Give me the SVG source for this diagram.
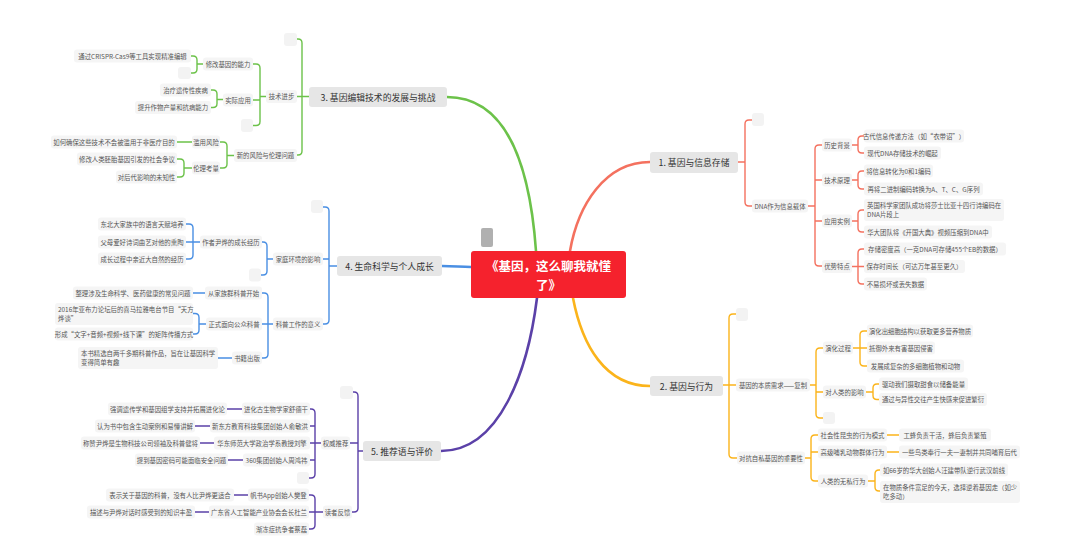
<svg xmlns="http://www.w3.org/2000/svg" width="1080" height="543" viewBox="0 0 1080 543">
<style>
.c{fill:none;stroke-width:1.4;stroke-linecap:round;stroke-linejoin:round}
.mc{fill:none;stroke-width:2.6;stroke-linecap:round}
.g{stroke:#6cc24a}.b{stroke:#4a8fe3}.p{stroke:#5b41a8}.r{stroke:#f4715f}.y{stroke:#fbb41b}
.n rect{fill:#f5f5f5}
text{font-family:"Noto Sans CJK SC","Noto Sans",sans-serif}
.n text{font-size:6.4px;fill:#555;text-anchor:middle;dominant-baseline:central}
.n text.l{text-anchor:start}
.m rect{fill:#e6e6e6}
.m text{font-size:8.8px;fill:#333;text-anchor:middle;dominant-baseline:central}
.e rect{fill:#f3f3f3}
</style>
<rect width="1080" height="543" fill="#ffffff"/>
<g id="connectors">
<!-- main branches -->
<path class="mc g" d="M447 97 C495 97 528 140 536 251"/>
<path class="mc b" d="M442 266 C455 266 460 267 471 267"/>
<path class="mc p" d="M441 451 C500 451 528 370 537 298"/>
<path class="mc r" d="M650 162 C605 162 578 205 570 251"/>
<path class="mc y" d="M650 386 C605 386 582 345 573 298"/>
<!-- branch 3 -->
<path class="c g" d="M297 39 H298 Q302 39 302 43 V151 Q302 155 298 155 H297 M302 96.5 H297 M309 96.5 H302"/>
<path class="c g" d="M253 64 H256 Q260 64 260 68 V121.5 Q260 125.5 256 125.5 H253 M260 100 H253 M266 96.5 H260"/>
<path class="c g" d="M191 56 H193 Q197 56 197 60 V69 Q197 73 193 73 H191 M203 64 H197"/>
<path class="c g" d="M211 90 H213 Q217 90 217 94 V103.5 Q217 107.5 213 107.5 H211 M223 99.5 H217"/>
<path class="c g" d="M220 142 H223 Q227 142 227 146 V164 Q227 168 223 168 H220 M234 155.5 H227"/>
<path class="c g" d="M192 142 H177"/>
<path class="c g" d="M177 159 H180 Q184 159 184 163 V173 Q184 177 180 177 H177 M192 168 H184"/>
<!-- branch 4 -->
<path class="c b" d="M323 207 H325 Q329 207 329 211 V320 Q329 324 325 324 H323 M329 259 H323 M337 266 H329"/>
<path class="c b" d="M262 242 H263 Q267 242 267 246 V271 Q267 275 263 275 H261 M273 259 H267"/>
<path class="c b" d="M186 224 H189 Q193 224 193 228 V255 Q193 259 189 259 H186 M193 242 H186 M200 242 H193"/>
<path class="c b" d="M262 293 H264 Q268 293 268 297 V354 Q268 358 264 358 H262 M268 324 H262 M273 324 H268"/>
<path class="c b" d="M205 293 H193"/>
<path class="c b" d="M193 313.5 H195 Q199 313.5 199 317.5 V330 Q199 334 195 334 H193 M206 324 H199"/>
<path class="c b" d="M232 358 H218"/>
<!-- branch 5 -->
<path class="c p" d="M353 392 H354 Q358 392 358 396 V508 Q358 512 354 512 H352 M358 443 H350 M363 451 H358"/>
<path class="c p" d="M310 409 H311 Q315 409 315 413 V474 Q315 478 311 478 H309 M315 426 H310 M321 443 H310 M315 460 H310"/>
<path class="c p" d="M242 409 H227 M210 426 H195 M214 443 H200 M243 460 H228"/>
<path class="c p" d="M309 495 H311 Q315 495 315 499 V525 Q315 529 311 529 H309 M323 512 H309"/>
<path class="c p" d="M248 495 H234 M209 512 H195"/>
<!-- branch 1 -->
<path class="c r" d="M752 120 H749 Q745 120 745 124 V202 Q745 206 749 206 H752 M738 162 H745"/>
<path class="c r" d="M822 145 H819 Q815 145 815 149 V262 Q815 266 819 266 H822 M815 180 H822 M815 221 H822 M808 206 H815"/>
<path class="c r" d="M864 136 H862 Q858 136 858 140 V149 Q858 153 862 153 H864 M852 145 H858"/>
<path class="c r" d="M864 171 H862 Q858 171 858 175 V185 Q858 189 862 189 H864 M852 180 H858"/>
<path class="c r" d="M864 210 H862 Q858 210 858 214 V228 Q858 232 862 232 H864 M852 221 H858"/>
<path class="c r" d="M864 249 H862 Q858 249 858 253 V280 Q858 284 862 284 H864 M852 266.5 H864"/>
<!-- branch 2 -->
<path class="c y" d="M736 314 H733 Q729 314 729 318 V454 Q729 458 733 458 H737 M723 385 H736"/>
<path class="c y" d="M823 348 H820 Q816 348 816 352 V414 Q816 418 820 418 H823 M816 392 H823 M810 385 H816"/>
<path class="c y" d="M867 331 H864 Q860 331 860 335 V362 Q860 366 864 366 H867 M853 348 H867"/>
<path class="c y" d="M879 384 H877 Q873 384 873 388 V395.5 Q873 399.5 877 399.5 H879 M866 392 H873"/>
<path class="c y" d="M818 435 H815 Q811 435 811 439 V477 Q811 481 815 481 H818 M811 452 H818 M805 458 H811"/>
<path class="c y" d="M887 435 H899 M887 452 H899"/>
<path class="c y" d="M880 470 H879 Q875 470 875 474 V487 Q875 491 879 491 H880 M868 481 H875"/>
</g>

<!-- center -->
<g id="center">
<rect x="481" y="228" width="12" height="19" rx="2" fill="#b0b0b0"/>
<rect x="471" y="251" width="155" height="47" rx="3" fill="#f5222d"/>
<text x="548.5" y="265.5" font-size="12.5" font-weight="bold" fill="#ffffff" text-anchor="middle" dominant-baseline="central">《基因，这么聊我就懂</text>
<text x="548.5" y="284" font-size="12.5" font-weight="bold" fill="#ffffff" text-anchor="middle" dominant-baseline="central">了》</text>
</g>

<!-- branch 3 nodes -->
<g id="b3" class="m"><rect x="309" y="87" width="138" height="20" rx="3"/><text x="378" y="97">3. 基因编辑技术的发展与挑战</text></g>
<g id="b3-e1" class="n e"><rect x="284" y="33" width="13" height="13" rx="3"/></g>
<g id="b3-1" class="n"><rect x="266" y="90" width="31" height="13" rx="3"/><text x="281.5" y="96.5">技术进步</text></g>
<g id="b3-2" class="n"><rect x="234" y="149" width="63" height="13" rx="3"/><text x="265.5" y="155.5">新的风险与伦理问题</text></g>
<g id="b3-1-1" class="n"><rect x="203" y="57.5" width="50" height="13" rx="3"/><text x="228" y="64">修改基因的能力</text></g>
<g id="b3-1-2" class="n"><rect x="223" y="93.5" width="30" height="13" rx="3"/><text x="238" y="100">实际应用</text></g>
<g id="b3-1-e" class="n e"><rect x="241" y="119" width="12" height="13" rx="3"/></g>
<g id="b3-1-1-1" class="n"><rect x="74" y="49.5" width="117" height="13" rx="3"/><text x="132.5" y="56">通过CRISPR-Cas9等工具实现精准编辑</text></g>
<g id="b3-1-1-e" class="n e"><rect x="178" y="67" width="13" height="12" rx="3"/></g>
<g id="b3-1-2-1" class="n"><rect x="160" y="83.5" width="51" height="13" rx="3"/><text x="185.5" y="90">治疗遗传性疾病</text></g>
<g id="b3-1-2-2" class="n"><rect x="135" y="101" width="76" height="13" rx="3"/><text x="173" y="107.5">提升作物产量和抗病能力</text></g>
<g id="b3-2-1" class="n"><rect x="192" y="135.5" width="28" height="13" rx="3"/><text x="206" y="142">滥用风险</text></g>
<g id="b3-2-2" class="n"><rect x="192" y="161.5" width="28" height="13" rx="3"/><text x="206" y="168">伦理考量</text></g>
<g id="b3-2-1-1" class="n"><rect x="51" y="135.5" width="126" height="13" rx="3"/><text x="114" y="142">如何确保这些技术不会被滥用于非医疗目的</text></g>
<g id="b3-2-2-1" class="n"><rect x="77" y="152.5" width="100" height="13" rx="3"/><text x="127" y="159">修改人类胚胎基因引发的社会争议</text></g>
<g id="b3-2-2-2" class="n"><rect x="116" y="170.5" width="61" height="13" rx="3"/><text x="146.5" y="177">对后代影响的未知性</text></g>

<!-- branch 4 nodes -->
<g id="b4" class="m"><rect x="337" y="256" width="105" height="20" rx="3"/><text x="389.5" y="266">4. 生命科学与个人成长</text></g>
<g id="b4-e1" class="n e"><rect x="311" y="200" width="12" height="13" rx="3"/></g>
<g id="b4-1" class="n"><rect x="273" y="252.5" width="50" height="13" rx="3"/><text x="298" y="259">家庭环境的影响</text></g>
<g id="b4-2" class="n"><rect x="273" y="317.5" width="50" height="13" rx="3"/><text x="298" y="324">科普工作的意义</text></g>
<g id="b4-1-1" class="n"><rect x="200" y="235.5" width="62" height="13" rx="3"/><text x="231" y="242">作者尹烨的成长经历</text></g>
<g id="b4-1-e" class="n e"><rect x="249" y="268.5" width="12" height="13" rx="3"/></g>
<g id="b4-1-1-1" class="n"><rect x="98" y="217.5" width="88" height="13" rx="3"/><text x="142" y="224">东北大家族中的语言天赋培养</text></g>
<g id="b4-1-1-2" class="n"><rect x="98" y="235.5" width="88" height="13" rx="3"/><text x="142" y="242">父母爱好诗词曲艺对他的熏陶</text></g>
<g id="b4-1-1-3" class="n"><rect x="98" y="252.5" width="88" height="13" rx="3"/><text x="142" y="259">成长过程中亲近大自然的经历</text></g>
<g id="b4-2-1" class="n"><rect x="205" y="286.5" width="57" height="13" rx="3"/><text x="233.5" y="293">从家族群科普开始</text></g>
<g id="b4-2-2" class="n"><rect x="206" y="317.5" width="56" height="13" rx="3"/><text x="234" y="324">正式面向公众科普</text></g>
<g id="b4-2-3" class="n"><rect x="232" y="351.5" width="30" height="13" rx="3"/><text x="247" y="358">书籍出版</text></g>
<g id="b4-2-1-1" class="n"><rect x="73" y="286.5" width="120" height="13" rx="3"/><text x="133" y="293">整理涉及生命科学、医药健康的常见问题</text></g>
<g id="b4-2-2-1" class="n"><rect x="55" y="303" width="138" height="22" rx="3"/><text class="l" x="58" y="309">2016年亚布力论坛后的喜马拉雅电台节目“天方</text><text class="l" x="58" y="318.5">烨谈”</text></g>
<g id="b4-2-2-2" class="n"><rect x="55" y="327.5" width="138" height="13" rx="3"/><text x="124" y="334">形成“文字+音频+视频+线下课”的矩阵传播方式</text></g>
<g id="b4-2-3-1" class="n"><rect x="78" y="347" width="140" height="22" rx="3"/><text class="l" x="81" y="353.5">本书精选自两千多期科普作品，旨在让基因科学</text><text class="l" x="81" y="362.5">变得简单有趣</text></g>

<!-- branch 5 nodes -->
<g id="b5" class="m"><rect x="363" y="441" width="78" height="20" rx="3"/><text x="402" y="451">5. 推荐语与评价</text></g>
<g id="b5-e1" class="n e"><rect x="340" y="386" width="13" height="13" rx="3"/></g>
<g id="b5-1" class="n"><rect x="321" y="436.5" width="29" height="13" rx="3"/><text x="335.5" y="443">权威推荐</text></g>
<g id="b5-2" class="n"><rect x="323" y="505.5" width="29" height="13" rx="3"/><text x="337.5" y="512">读者反馈</text></g>
<g id="b5-1-1" class="n"><rect x="242" y="402.5" width="68" height="13" rx="3"/><text x="276" y="409">进化古生物学家舒德干</text></g>
<g id="b5-1-2" class="n"><rect x="210" y="419.5" width="100" height="13" rx="3"/><text x="260" y="426">新东方教育科技集团创始人俞敏洪</text></g>
<g id="b5-1-3" class="n"><rect x="214" y="436.5" width="96" height="13" rx="3"/><text x="262" y="443">华东师范大学政治学系教授刘擎</text></g>
<g id="b5-1-4" class="n"><rect x="243" y="453.5" width="67" height="13" rx="3"/><text x="276.5" y="460">360集团创始人周鸿祎</text></g>
<g id="b5-1-e" class="n e"><rect x="297" y="472" width="12" height="12" rx="3"/></g>
<g id="b5-1-1-1" class="n"><rect x="108" y="402.5" width="119" height="13" rx="3"/><text x="167.5" y="409">强调遗传学和基因组学支持并拓展进化论</text></g>
<g id="b5-1-2-1" class="n"><rect x="95" y="419.5" width="100" height="13" rx="3"/><text x="145" y="426">认为书中包含生动案例和易懂讲解</text></g>
<g id="b5-1-3-1" class="n"><rect x="81" y="436.5" width="119" height="13" rx="3"/><text x="140.5" y="443">称赞尹烨是生物科技公司领袖及科普健将</text></g>
<g id="b5-1-4-1" class="n"><rect x="135" y="453.5" width="93" height="13" rx="3"/><text x="181.5" y="460">提到基因密码可能面临安全问题</text></g>
<g id="b5-2-1" class="n"><rect x="248" y="488.5" width="61" height="13" rx="3"/><text x="278.5" y="495">帆书App创始人樊登</text></g>
<g id="b5-2-2" class="n"><rect x="209" y="505.5" width="100" height="13" rx="3"/><text x="259" y="512">广东省人工智能产业协会会长杜兰</text></g>
<g id="b5-2-3" class="n"><rect x="254" y="522.5" width="55" height="13" rx="3"/><text x="281.5" y="529">渐冻症抗争者蔡磊</text></g>
<g id="b5-2-1-1" class="n"><rect x="106" y="488.5" width="128" height="13" rx="3"/><text x="170" y="495">表示关于基因的科普，没有人比尹烨更适合</text></g>
<g id="b5-2-2-1" class="n"><rect x="87" y="505.5" width="108" height="13" rx="3"/><text x="141" y="512">描述与尹烨对话时感受到的知识丰盈</text></g>

<!-- branch 1 nodes -->
<g id="b1" class="m"><rect x="650" y="152" width="88" height="21" rx="3"/><text x="694" y="162.5">1. 基因与信息存储</text></g>
<g id="b1-e1" class="n e"><rect x="752" y="113" width="12" height="13" rx="3"/></g>
<g id="b1-1" class="n"><rect x="752" y="199.5" width="56" height="13" rx="3"/><text x="780" y="206">DNA作为信息载体</text></g>
<g id="b1-1-1" class="n"><rect x="822" y="138.5" width="30" height="13" rx="3"/><text x="837" y="145">历史背景</text></g>
<g id="b1-1-2" class="n"><rect x="822" y="173.5" width="30" height="13" rx="3"/><text x="837" y="180">技术原理</text></g>
<g id="b1-1-3" class="n"><rect x="822" y="214.5" width="30" height="13" rx="3"/><text x="837" y="221">应用实例</text></g>
<g id="b1-1-4" class="n"><rect x="822" y="260" width="30" height="13" rx="3"/><text x="837" y="266.5">优势特点</text></g>
<g id="b1-1-1-1" class="n"><rect x="864" y="129.5" width="100" height="13" rx="3"/><text x="914" y="136">古代信息传递方法（如“衣带诏”）</text></g>
<g id="b1-1-1-2" class="n"><rect x="864" y="146.5" width="77" height="13" rx="3"/><text x="902.5" y="153">现代DNA存储技术的崛起</text></g>
<g id="b1-1-2-1" class="n"><rect x="864" y="164.5" width="69" height="13" rx="3"/><text x="898.5" y="171">将信息转化为0和1编码</text></g>
<g id="b1-1-2-2" class="n"><rect x="864" y="182.5" width="119" height="13" rx="3"/><text x="923.5" y="189">再将二进制编码转换为A、T、C、G序列</text></g>
<g id="b1-1-3-1" class="n"><rect x="864" y="199" width="140" height="22" rx="3"/><text class="l" x="867" y="205.5">英国科学家团队成功将莎士比亚十四行诗编码在</text><text class="l" x="867" y="214.5">DNA片段上</text></g>
<g id="b1-1-3-2" class="n"><rect x="864" y="225.5" width="128" height="13" rx="3"/><text x="928" y="232">华大团队将《开国大典》视频压缩到DNA中</text></g>
<g id="b1-1-4-1" class="n"><rect x="864" y="242.5" width="142" height="13" rx="3"/><text x="935" y="249">存储密度高（一克DNA可存储455个EB的数据）</text></g>
<g id="b1-1-4-2" class="n"><rect x="864" y="260" width="101" height="13" rx="3"/><text x="914.5" y="266.5">保存时间长（可达万年甚至更久）</text></g>
<g id="b1-1-4-3" class="n"><rect x="864" y="277.5" width="63" height="13" rx="3"/><text x="895.5" y="284">不易损坏或丢失数据</text></g>

<!-- branch 2 nodes -->
<g id="b2" class="m"><rect x="650" y="376" width="73" height="20" rx="3"/><text x="686.5" y="386">2. 基因与行为</text></g>
<g id="b2-e1" class="n e"><rect x="736" y="308" width="12" height="13" rx="3"/></g>
<g id="b2-1" class="n"><rect x="736" y="378.5" width="74" height="13" rx="3"/><text x="773" y="385">基因的本质需求——复制</text></g>
<g id="b2-2" class="n"><rect x="737" y="451.5" width="68" height="13" rx="3"/><text x="771" y="458">对抗自私基因的重要性</text></g>
<g id="b2-1-1" class="n"><rect x="823" y="341.5" width="30" height="13" rx="3"/><text x="838" y="348">演化过程</text></g>
<g id="b2-1-2" class="n"><rect x="823" y="385.5" width="43" height="13" rx="3"/><text x="844.5" y="392">对人类的影响</text></g>
<g id="b2-1-e" class="n e"><rect x="823" y="412" width="12" height="12" rx="3"/></g>
<g id="b2-1-1-1" class="n"><rect x="867" y="324.5" width="106" height="13" rx="3"/><text x="920" y="331">演化出细胞结构以获取更多营养物质</text></g>
<g id="b2-1-1-2" class="n"><rect x="867" y="341.5" width="68" height="13" rx="3"/><text x="901" y="348">抵御外来有害基因侵害</text></g>
<g id="b2-1-1-3" class="n"><rect x="867" y="359.5" width="97" height="13" rx="3"/><text x="915.5" y="366">发展成复杂的多细胞植物和动物</text></g>
<g id="b2-1-2-1" class="n"><rect x="879" y="377.5" width="89" height="13" rx="3"/><text x="923.5" y="384">驱动我们摄取甜食以储备能量</text></g>
<g id="b2-1-2-2" class="n"><rect x="879" y="393" width="108" height="13" rx="3"/><text x="933" y="399.5">通过与异性交往产生快感来促进繁衍</text></g>
<g id="b2-2-1" class="n"><rect x="818" y="428.5" width="69" height="13" rx="3"/><text x="852.5" y="435">社会性昆虫的行为模式</text></g>
<g id="b2-2-2" class="n"><rect x="818" y="445.5" width="69" height="13" rx="3"/><text x="852.5" y="452">高级哺乳动物群体行为</text></g>
<g id="b2-2-3" class="n"><rect x="818" y="474.5" width="50" height="13" rx="3"/><text x="843" y="481">人类的无私行为</text></g>
<g id="b2-2-1-1" class="n"><rect x="899" y="428.5" width="92" height="13" rx="3"/><text x="945" y="435">工蜂负责干活，蜂后负责繁殖</text></g>
<g id="b2-2-2-1" class="n"><rect x="899" y="445.5" width="121" height="13" rx="3"/><text x="959.5" y="452">一些鸟类奉行一夫一妻制并共同哺育后代</text></g>
<g id="b2-2-3-1" class="n"><rect x="880" y="463.5" width="128" height="13" rx="3"/><text x="944" y="470">如66岁的华大创始人汪建带队逆行武汉前线</text></g>
<g id="b2-2-3-2" class="n"><rect x="880" y="481" width="140" height="22" rx="3"/><text class="l" x="883" y="487">在物质条件富足的今天，选择逆着基因走（如少</text><text class="l" x="883" y="496">吃多动）</text></g>
</svg>
